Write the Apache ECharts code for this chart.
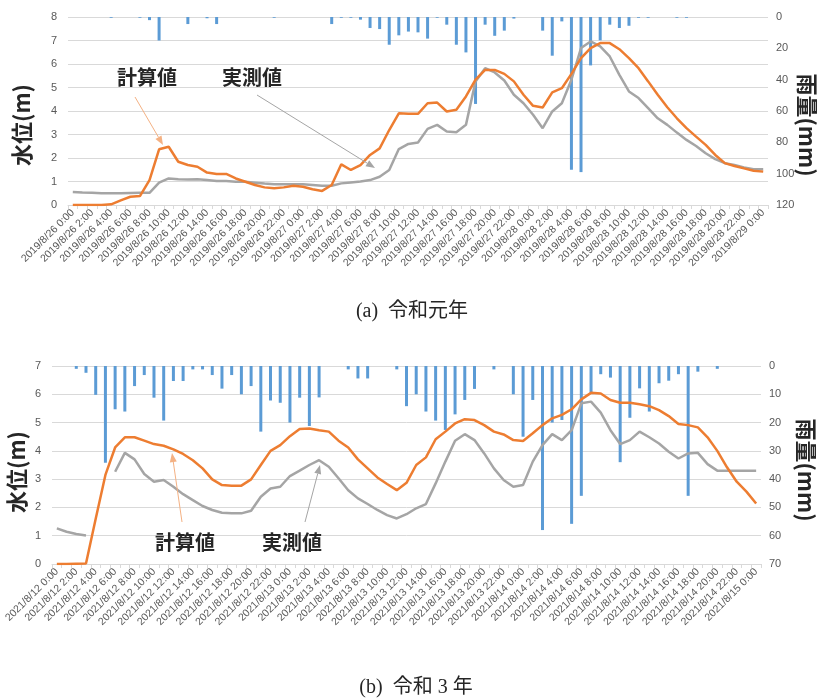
<!DOCTYPE html>
<html><head><meta charset="utf-8">
<script src="https://cdn.jsdelivr.net/npm/echarts/dist/echarts.min.js"></script>
<style>html,body{margin:0;padding:0;background:#fff}#c{width:819px;height:699px}</style>
</head><body><div id="c"></div>
<script>
function makeCats(y, m, d0, n) {
  const out = [];
  for (let i = 0; i < n; i++) {
    const d = d0 + Math.floor(i / 24), h = i % 24;
    out.push(y + '/' + m + '/' + d + ' ' + h + ':00');
  }
  return out;
}
const catsA = makeCats(2019, 8, 26, 73);
const catsB = makeCats(2021, 8, 12, 73);

const rainA = [0,0,0,0,0.5,0,0,0.5,2,15, 0,0,4.5,0,0.8,4.5,0,0,0,0, 0,0.5,0,0,0,0,0,4.5,0.5,0.5,
  1.7,7,7.7,17.7,11.7,9.3,9.8,13.8,0.5,4.9, 17.7,22.6,55.5,4.9,12,8.7,1,0,0,8.7,
  24.7,2.8,97.5,99,30.9,14.9,4.9,7,5.6,0.5, 0.5,0,0,0.5,0.5,0,0,0,0,0, 0,0,0];
const calcA = [0,0,0,0,0.03,0.2,0.35,0.38,1.06,2.37,
  2.48,1.84,1.7,1.63,1.38,1.32,1.32,1.13,0.99,0.85,
  0.75,0.71,0.75,0.82,0.78,0.67,0.6,0.85,1.73,1.49,
  1.7,2.13,2.41,3.19,3.9,3.88,3.88,4.33,4.36,3.98,
  4.05,4.62,5.33,5.75,5.75,5.58,5.26,4.69,4.22,4.15,
  4.79,4.97,5.58,6.25,6.68,6.89,6.89,6.63,6.25,5.82,
  5.26,4.69,4.16,3.69,3.27,2.91,2.56,2.13,1.78,1.66,
  1.56,1.46,1.42];
const measA = [0.55,0.53,0.52,0.5,0.5,0.5,0.51,0.52,0.52,0.95,
  1.13,1.1,1.09,1.1,1.06,1.02,1.02,0.99,0.99,0.95,
  0.91,0.88,0.88,0.88,0.88,0.85,0.82,0.82,0.92,0.96,
  1.0,1.06,1.2,1.49,2.38,2.6,2.66,3.24,3.41,3.13,
  3.1,3.41,5.26,5.82,5.64,5.3,4.69,4.33,3.84,3.27,
  3.98,4.33,5.33,6.68,6.96,6.75,6.32,5.54,4.83,4.55,
  4.12,3.69,3.41,3.08,2.77,2.51,2.2,1.95,1.78,1.7,
  1.6,1.52,1.52];

const rainB = [0,0,1,2.4,10.2,34.2,15.3,16.1,7.1,3.2,
  11.2,19.3,5.3,5.3,1.2,1.2,3.2,8,3.2,10,
  7.1,23.2,12.2,13,20,11.2,21.2,11.1,0,0,
  1.2,4.4,4.4,0,0,1.2,14.2,10,16.1,19.3,
  22.6,17.1,12,8.1,0,1.2,0,10,25,12,
  58,20,19.1,55.8,45.9,9.4,2.9,4.1,34,18.3,
  7.9,16.1,6.1,5.2,2.9,45.9,2,0,1,0,
  0,0,0];
const calcB = [0,0,0.01,0.02,1.6,3.15,4.12,4.48,4.48,4.36,
  4.24,4.18,4.05,3.89,3.67,3.38,2.99,2.79,2.77,2.77,
  2.99,3.5,4.0,4.2,4.52,4.77,4.79,4.73,4.68,4.36,
  4.12,3.7,3.38,3.06,2.83,2.61,2.87,3.5,3.77,4.41,
  4.68,4.97,5.12,5.09,4.91,4.68,4.58,4.38,4.35,4.62,
  4.91,5.15,5.27,5.47,5.82,6.05,6.03,5.8,5.7,5.7,
  5.65,5.58,5.44,5.23,4.95,4.91,4.83,4.48,4.0,3.42,
  2.91,2.56,2.14];
const measB = [1.26,1.14,1.06,1.01,null,null,3.26,3.93,3.7,3.18,
  2.91,2.97,2.73,2.47,2.26,2.05,1.91,1.81,1.79,1.79,
  1.88,2.38,2.67,2.73,3.11,3.3,3.5,3.67,3.44,3.03,
  2.61,2.32,2.12,1.91,1.73,1.61,1.76,1.97,2.12,2.85,
  3.62,4.36,4.59,4.38,3.91,3.38,2.97,2.73,2.79,3.62,
  4.2,4.59,4.38,4.73,5.68,5.74,5.35,4.73,4.24,4.38,
  4.68,4.48,4.26,3.97,3.73,3.91,3.93,3.53,3.3,3.3,
  3.3,3.3,3.3];

const ORANGE = '#ed7d31', GRAY = '#a5a5a5', BLUE = '#5b9bd5';
const GRID_C = '#d9d9d9', LBL_C = '#595959';
const CJK = '"Noto Sans CJK JP", sans-serif';

function xAx(gi, data) {
  return {
    type: 'category', gridIndex: gi, data: data, boundaryGap: true,
    axisLine: { lineStyle: { color: GRID_C } },
    axisTick: { show: true, interval: 0, length: 4, lineStyle: { color: GRID_C } },
    axisLabel: { interval: 1, rotate: 45, fontSize: 10.5, color: LBL_C, margin: 6, fontFamily: '"Liberation Sans", sans-serif' },
    splitLine: { show: false }
  };
}
function yLeft(gi, max) {
  return {
    type: 'value', gridIndex: gi, min: 0, max: max, interval: 1, position: 'left',
    axisLine: { show: false }, axisTick: { show: false },
    axisLabel: { fontSize: 11, color: LBL_C, margin: 11 },
    splitLine: { lineStyle: { color: GRID_C } }
  };
}
function yRight(gi, max, iv) {
  return {
    type: 'value', gridIndex: gi, min: 0, max: max, interval: iv, inverse: true, position: 'right',
    axisLine: { show: false }, axisTick: { show: false },
    axisLabel: { fontSize: 11, color: LBL_C, margin: 8 },
    splitLine: { show: false }
  };
}
function bar(xi, yi, data) {
  return { type: 'bar', xAxisIndex: xi, yAxisIndex: yi, data: data, barWidth: 3,
    itemStyle: { color: BLUE }, z: 2, silent: true };
}
function line(xi, yi, data, color) {
  return { type: 'line', xAxisIndex: xi, yAxisIndex: yi, data: data, symbol: 'none',
    lineStyle: { color: color, width: 2.5 }, itemStyle: { color: color }, z: 3, connectNulls: false };
}

function arrow(x1, y1, x2, y2, color) {
  const a = Math.atan2(y2 - y1, x2 - x1), L = 9, W = 3.5;
  const bx = x2 - L * Math.cos(a), by = y2 - L * Math.sin(a);
  return [
    { type: 'line', shape: { x1: x1, y1: y1, x2: bx, y2: by }, style: { stroke: color, lineWidth: 1 }, z: 10 },
    { type: 'polygon', shape: { points: [[x2, y2], [bx - W * Math.sin(a), by + W * Math.cos(a)], [bx + W * Math.sin(a), by - W * Math.cos(a)]] }, style: { fill: color }, z: 10 }
  ];
}
function txt(x, y, s, font, rot, align) {
  return { type: 'text', x: x, y: y, rotation: rot || 0, z: 10,
    style: { text: s, font: font, fill: '#262626', align: align || 'left', verticalAlign: 'middle', textAlign: align || 'left', textVerticalAlign: 'middle' } };
}

const chart = echarts.init(document.getElementById('c'));
const annoFont = 'bold 20px ' + CJK;
const axFont = 'bold 22px ' + CJK;
const capFont = '20px "Liberation Serif", "Noto Sans CJK JP", serif';
chart.setOption({
  animation: false,
  backgroundColor: '#fff',
  grid: [
    { left: 68, right: 51, top: 17, height: 188 },
    { left: 52, right: 58, top: 366, height: 198 }
  ],
  xAxis: [xAx(0, catsA), xAx(1, catsB)],
  yAxis: [yLeft(0, 8), yRight(0, 120, 20), yLeft(1, 7), yRight(1, 70, 10)],
  series: [
    bar(0, 1, rainA), line(0, 0, measA, GRAY), line(0, 0, calcA, ORANGE),
    bar(1, 3, rainB), line(1, 2, measB, GRAY), line(1, 2, calcB, ORANGE)
  ],
  graphic: [].concat(
    [txt(117, 77, '計算値', annoFont), txt(222, 77, '実測値', annoFont)],
    arrow(135, 97, 163, 145, '#f4b183'), arrow(257, 95, 375, 168, GRAY),
    [txt(155, 542, '計算値', annoFont), txt(262, 542, '実測値', annoFont)],
    arrow(182, 522, 172, 453, '#f4b183'), arrow(305, 522, 320, 465, GRAY),
    [txt(22, 125, '水位(m)', axFont, Math.PI / 2, 'center'), txt(807, 125, '雨量(mm)', axFont, -Math.PI / 2, 'center'),
     txt(17, 472, '水位(m)', axFont, Math.PI / 2, 'center'), txt(806, 470, '雨量(mm)', axFont, -Math.PI / 2, 'center'),
     txt(412, 312, '(a)  令和元年', capFont, 0, 'center'), txt(416, 688, '(b)  令和 3 年', capFont, 0, 'center')]
  )
});
</script></body></html>
